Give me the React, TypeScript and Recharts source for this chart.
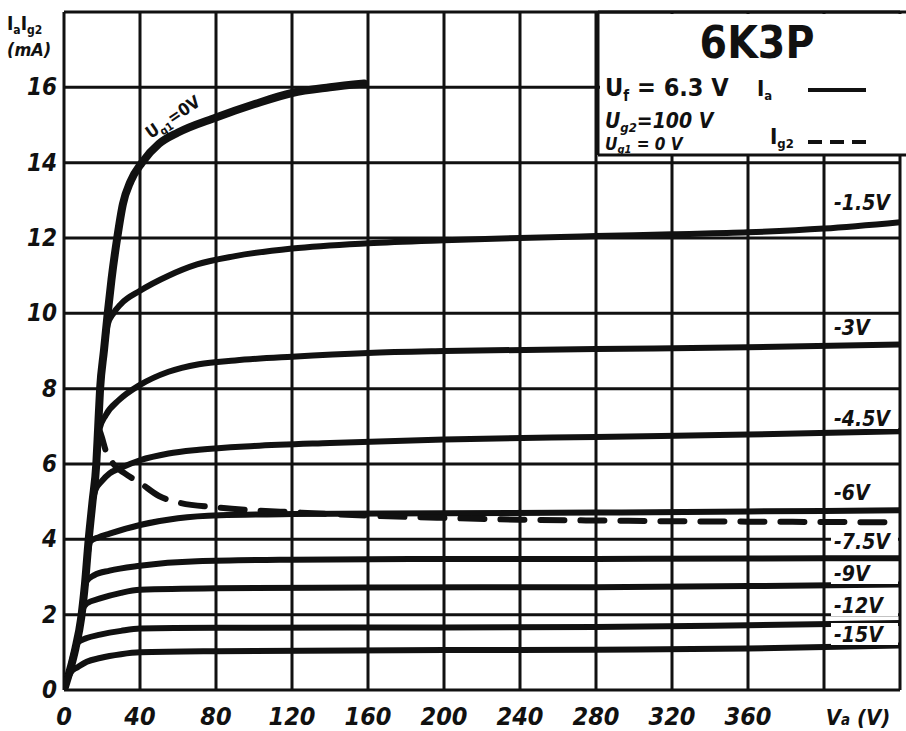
import React from 'react';
import { LineChart, Line, XAxis, YAxis, CartesianGrid } from 'recharts';

// anode voltage ticks (V) and current ticks (mA)
const vaTicks = [0, 40, 80, 120, 160, 200, 240, 280, 320, 360, 400, 440];
const iaTicks = [0, 2, 4, 6, 8, 10, 12, 14, 16, 18];

// Ia(Va) curves, [Va, Ia]
const ug0: [number, number][] = [
  [0, 0], [3, 0.5], [6, 1.1], [9, 1.9], [11, 2.8], [13, 4.0], [15, 5.0], [17, 6.0], [18, 7.0], [19, 8.0],
  [21, 9.0], [23, 10.0], [25, 10.9], [28, 12.0], [31, 12.9], [35, 13.5], [41, 14.0], [50, 14.5], [60, 14.8],
  [80, 15.2], [100, 15.55], [120, 15.85], [140, 16.0], [158, 16.1],
];
const ug15: [number, number][] = [
  [0, 0], [3, 0.5], [6, 1.1], [9, 1.9], [11, 2.8], [13, 4.0], [15, 5.0], [17, 6.0], [18, 7.0], [19, 8.0],
  [21, 9.0], [23, 9.7], [26, 10.0], [30, 10.25], [40, 10.6], [55, 11.0], [70, 11.3], [90, 11.52],
  [120, 11.72], [160, 11.86], [200, 11.94], [240, 12.0], [280, 12.05], [320, 12.1], [360, 12.15],
  [400, 12.25], [440, 12.42],
];
const ug30: [number, number][] = [
  [0, 0], [3, 0.5], [6, 1.1], [9, 1.9], [11, 2.8], [13, 4.0], [15, 5.0], [17, 6.0], [18.5, 6.9], [22, 7.3],
  [29, 7.7], [40, 8.1], [55, 8.45], [71, 8.65], [90, 8.75], [120, 8.85], [160, 8.95], [200, 9.0],
  [280, 9.05], [360, 9.1], [440, 9.17],
];
const ug45: [number, number][] = [
  [0, 0], [3, 0.5], [6, 1.1], [9, 1.9], [11, 2.8], [13, 4.0], [15, 5.0], [16.5, 5.3], [20, 5.55], [24, 5.75],
  [30, 5.9], [40, 6.1], [55, 6.28], [71, 6.38], [100, 6.48], [140, 6.56], [200, 6.65], [280, 6.72],
  [360, 6.78], [440, 6.87],
];
const ug60: [number, number][] = [
  [0, 0], [3, 0.5], [6, 1.1], [9, 1.9], [11, 2.8], [12.5, 3.6], [14, 3.95], [18, 4.05], [24, 4.15],
  [40, 4.38], [60, 4.56], [82, 4.64], [120, 4.67], [200, 4.69], [280, 4.71], [360, 4.74], [440, 4.77],
];
const ug75: [number, number][] = [
  [0, 0], [3, 0.5], [6, 1.1], [9, 1.9], [10.5, 2.6], [12, 2.9], [16, 3.05], [24, 3.17], [40, 3.3],
  [70, 3.42], [120, 3.46], [200, 3.48], [280, 3.48], [360, 3.49], [440, 3.5],
];
const ug90: [number, number][] = [
  [0, 0], [3, 0.5], [6, 1.1], [8, 1.6], [9.5, 2.1], [12, 2.3], [19, 2.43], [30, 2.58], [40, 2.66],
  [80, 2.7], [160, 2.72], [280, 2.73], [360, 2.76], [440, 2.8],
];
const ug120: [number, number][] = [
  [0, 0], [3, 0.5], [5, 0.95], [7, 1.25], [12, 1.38], [19, 1.47], [30, 1.57], [40, 1.63], [80, 1.65],
  [200, 1.66], [280, 1.67], [360, 1.72], [440, 1.78],
];
const ug150: [number, number][] = [
  [0, 0], [2, 0.3], [4, 0.5], [7, 0.6], [12, 0.75], [19, 0.85], [30, 0.95], [40, 1.0], [80, 1.03],
  [200, 1.06], [280, 1.07], [360, 1.1], [440, 1.18],
];
// screen grid current Ig2 (dashed)
const ig2: [number, number][] = [
  [18, 7.0], [20, 6.7], [22, 6.35], [26, 6.0], [32, 5.75], [40, 5.5], [50, 5.15], [60, 4.98], [80, 4.85],
  [100, 4.77], [120, 4.72], [160, 4.63], [200, 4.57], [240, 4.52], [280, 4.5], [320, 4.48], [360, 4.47],
  [400, 4.46], [440, 4.45],
];

const solidCurves = [ug0, ug15, ug30, ug45, ug60, ug75, ug90, ug120, ug150];
const curveLabels = ['-1.5V', '-3V', '-4.5V', '-6V', '-7.5V', '-9V', '-12V', '-15V'];

const toRows = (pts: [number, number][]) => pts.map(([va, ia]) => ({ va, ia }));

const FONT = "'Liberation Sans Narrow', 'DejaVu Sans Condensed', 'Liberation Sans', sans-serif";
const INK = '#111';

const XTick = (props: any) => {
  const { x, payload } = props;
  if (payload.value > 360) return <g />;
  return (
    <text x={x} y={725} textAnchor="middle" fill={INK} fontFamily={FONT} fontSize={25}
      fontWeight={700} fontStyle="italic">{payload.value}</text>
  );
};

const YTick = (props: any) => {
  const { y, payload } = props;
  if (payload.value > 16) return <g />;
  return (
    <text x={57} y={y + 8} textAnchor="end" fill={INK} fontFamily={FONT} fontSize={24}
      fontWeight={700} fontStyle="italic">{payload.value}</text>
  );
};

// y centre of each grid-bias label in the last column
const labelY = [202, 327, 418, 492, 541, 573, 605, 634];

const App: React.FC = () => {
  return (
    <div style={{ position: 'absolute', left: 0, top: 0, width: 906, height: 731, background: '#fff' }}>
      <LineChart width={906} height={731} margin={{ top: 12, right: 6, left: 0, bottom: 0 }}>
        <CartesianGrid stroke={INK} strokeWidth={3} />
        <XAxis type="number" dataKey="va" domain={[0, 440]} ticks={vaTicks} height={41}
          axisLine={false} tickLine={false} tick={<XTick />} interval={0} allowDataOverflow />
        <YAxis type="number" dataKey="ia" domain={[0, 18]} ticks={iaTicks} width={64}
          axisLine={false} tickLine={false} tick={<YTick />} interval={0} allowDataOverflow />
        {solidCurves.map((c, i) => (
          <Line key={i} data={toRows(c)} dataKey="ia" type="monotone" stroke={INK}
            strokeWidth={i === 0 ? 8 : 6} strokeLinecap="round" dot={false} isAnimationActive={false} />
        ))}
        <Line data={toRows(ig2)} dataKey="ia" type="monotone" stroke={INK} strokeWidth={6}
          strokeDasharray="24 16" strokeLinecap="round" dot={false} isAnimationActive={false} />
      </LineChart>

      <svg width={906} height={731} style={{ position: 'absolute', left: 0, top: 0, pointerEvents: 'none' }}
        fontFamily={FONT} fill={INK}>
        {/* axis titles */}
        <text x={7} y={30} fontSize={19} fontWeight={700}>
          I<tspan fontSize={12} dy={4}>a</tspan><tspan dy={-4}>I</tspan><tspan fontSize={12} dy={4}>g2</tspan>
        </text>
        <text x={7} y={56} fontSize={18} fontWeight={700} fontStyle="italic">(mA)</text>
        <text x={858} y={725} textAnchor="middle" fontSize={22} fontWeight={700} fontStyle="italic">
          V<tspan fontSize={15}>a</tspan> (V)
        </text>

        {/* curve label along the Ug1 = 0 V curve */}
        <text x={176} y={122} fontSize={17} fontWeight={700} textAnchor="middle"
          transform="rotate(-34 176 122)">
          U<tspan fontSize={11} dy={4}>g1</tspan><tspan dy={-4}>=0V</tspan>
        </text>

        {/* legend box */}
        <rect x={600} y={14} width={306} height={140} fill="#fff" />
        <line x1={598} y1={12} x2={598} y2={155} stroke={INK} strokeWidth={3} />
        <line x1={598} y1={155} x2={906} y2={155} stroke={INK} strokeWidth={3} />
        <line x1={598} y1={12} x2={906} y2={12} stroke={INK} strokeWidth={3} />
        <text x={757} y={58} textAnchor="middle" fontSize={44} fontWeight={700}>6K3P</text>
        <text x={605} y={96} fontSize={25} fontWeight={700}>
          U<tspan fontSize={15} dy={5}>f</tspan><tspan dy={-5}> = 6.3 V</tspan>
        </text>
        <text x={757} y={96} fontSize={22} fontWeight={700}>I<tspan fontSize={13} dy={4}>a</tspan></text>
        <line x1={808} y1={90} x2={866} y2={90} stroke={INK} strokeWidth={4} />
        <text x={605} y={128} fontSize={21} fontWeight={700} fontStyle="italic">
          U<tspan fontSize={13} dy={4}>g2</tspan><tspan dy={-4}>=100 V</tspan>
        </text>
        <text x={605} y={150} fontSize={17} fontWeight={700} fontStyle="italic">
          U<tspan fontSize={11} dy={3}>g1</tspan><tspan dy={-3}> = 0 V</tspan>
        </text>
        <text x={770} y={144} fontSize={22} fontWeight={700}>I<tspan fontSize={13} dy={4}>g2</tspan></text>
        <line x1={808} y1={142} x2={866} y2={142} stroke={INK} strokeWidth={4} strokeDasharray="14 8" />

        {/* grid-bias labels, right column */}
        {curveLabels.map((t, i) => (
          <g key={t}>
            <rect x={831} y={labelY[i] - 11} width={67} height={22} fill="#fff" />
            <text x={834} y={labelY[i] + 8} fontSize={21} fontWeight={700} fontStyle="italic">{t}</text>
          </g>
        ))}
      </svg>
    </div>
  );
};

export default App;
